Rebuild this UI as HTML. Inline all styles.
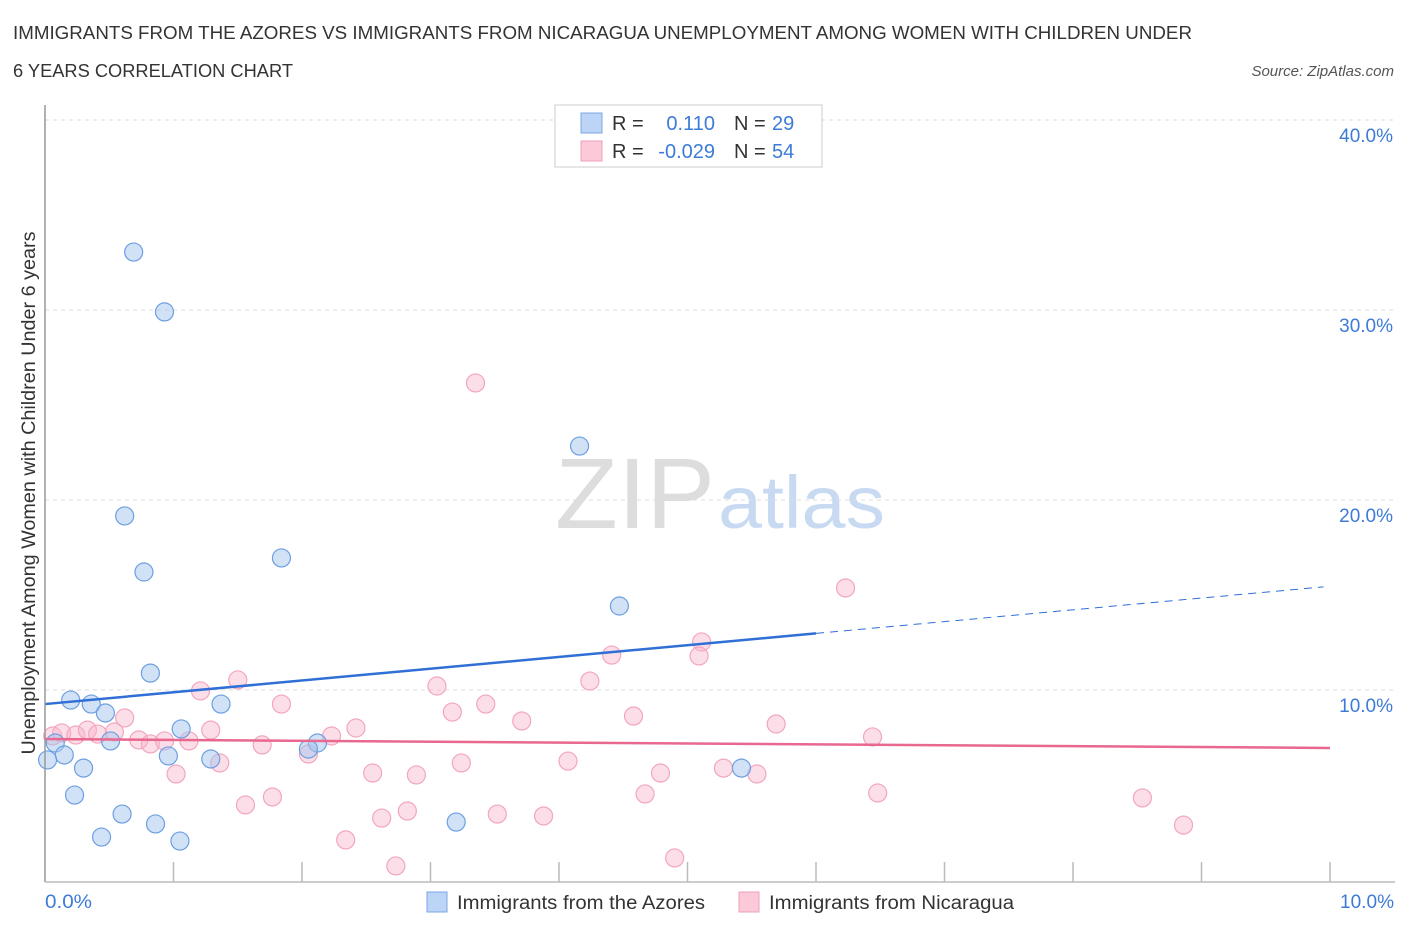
<!DOCTYPE html>
<html><head><meta charset="utf-8">
<style>
body{margin:0;background:#fff;font-family:"Liberation Sans",sans-serif;}
svg text{font-family:"Liberation Sans",sans-serif;}
</style></head>
<body>
<svg id="chart" width="1406" height="930">
<text x="13" y="39" font-size="18" fill="#333" textLength="1179" lengthAdjust="spacingAndGlyphs">IMMIGRANTS FROM THE AZORES VS IMMIGRANTS FROM NICARAGUA UNEMPLOYMENT AMONG WOMEN WITH CHILDREN UNDER</text>
<text x="13" y="77" font-size="18" fill="#333" textLength="280" lengthAdjust="spacingAndGlyphs">6 YEARS CORRELATION CHART</text>
<text x="1394" y="76" font-size="15" fill="#555" font-style="italic" text-anchor="end">Source: ZipAtlas.com</text>
<text x="555" y="528" font-size="100" fill="#ddd" textLength="160" lengthAdjust="spacingAndGlyphs" font-family="Liberation Serif, serif">ZIP</text>
<text x="718" y="528" font-size="74" fill="#c8daf2" textLength="167" lengthAdjust="spacingAndGlyphs">atlas</text>
<text transform="translate(35,493) rotate(-90)" font-size="19" fill="#333" text-anchor="middle" textLength="523" lengthAdjust="spacingAndGlyphs">Unemployment Among Women with Children Under 6 years</text>
<g id="grid"></g><g id="marks"></g><g id="lines"></g>
<line x1="45" y1="105" x2="45" y2="882" stroke="#999" stroke-width="1.5"/>
<line x1="45" y1="882" x2="1395" y2="882" stroke="#bbb" stroke-width="1.5"/>
<text x="45" y="908" font-size="19" fill="#3d7bd6" textLength="47" lengthAdjust="spacingAndGlyphs">0.0%</text>
<text x="1340" y="908" font-size="19" fill="#3d7bd6" textLength="54" lengthAdjust="spacingAndGlyphs">10.0%</text>
<g>
<rect x="555" y="105" width="267" height="62" fill="#fff" stroke="#ccc"/>
<rect x="581" y="113" width="21" height="20" fill="#bcd4f6" stroke="#7aa7e6"/>
<rect x="581" y="141" width="21" height="20" fill="#fbc9d8" stroke="#f0a0b8"/>
<text x="612" y="130" font-size="20" fill="#333">R =</text>
<text x="715" y="130" font-size="20" fill="#3d7bd6" text-anchor="end">0.110</text>
<text x="734" y="130" font-size="20" fill="#333">N =</text>
<text x="772" y="130" font-size="20" fill="#3d7bd6">29</text>
<text x="612" y="158" font-size="20" fill="#333">R =</text>
<text x="715" y="158" font-size="20" fill="#3d7bd6" text-anchor="end">-0.029</text>
<text x="734" y="158" font-size="20" fill="#333">N =</text>
<text x="772" y="158" font-size="20" fill="#3d7bd6">54</text>
</g>
<g>
<rect x="427" y="892" width="20" height="20" fill="#bcd4f6" stroke="#7aa7e6"/>
<text x="457" y="909" font-size="19" fill="#333" textLength="248" lengthAdjust="spacingAndGlyphs">Immigrants from the Azores</text>
<rect x="739" y="892" width="20" height="20" fill="#fbc9d8" stroke="#f0a0b8"/>
<text x="769" y="909" font-size="19" fill="#333" textLength="245" lengthAdjust="spacingAndGlyphs">Immigrants from Nicaragua</text>
</g>
</svg>
<script>
const yTicks=[10,20,30,40];
const xTickCount=10;
const azoresX=[0.69,0.93,4.16,0.62,1.84,0.77,4.47,0.82,0.20,0.36,0.47,1.37,1.06,0.08,0.51,2.12,2.05,0.15,0.96,1.29,0.02,0.30,5.42,0.23,0.60,0.86,3.20,0.44,1.05];
const azoresY=[33.05,29.9,22.84,19.16,16.95,16.21,14.42,10.89,9.47,9.26,8.79,9.26,7.95,7.21,7.32,7.21,6.89,6.58,6.53,6.37,6.32,5.89,5.89,4.47,3.47,2.95,3.05,2.26,2.05];
const nicX=[3.35,6.23,5.11,4.41,5.09,1.50,4.24,3.05,1.21,1.84,3.43,3.17,4.58,0.62,3.71,5.69,2.42,1.29,6.44,0.06,0.13,0.24,0.33,0.41,0.54,0.73,0.82,0.93,1.12,2.23,1.69,2.05,1.36,4.07,3.24,2.55,1.02,4.79,5.54,5.28,2.89,1.56,1.77,4.67,6.48,8.54,2.82,3.52,3.88,2.62,2.34,8.86,2.73,4.90];
const nicY=[26.16,15.37,12.53,11.84,11.79,10.53,10.47,10.21,9.95,9.26,9.26,8.84,8.63,8.53,8.37,8.21,8.0,7.89,7.53,7.58,7.74,7.63,7.89,7.68,7.79,7.37,7.16,7.32,7.32,7.58,7.11,6.63,6.16,6.26,6.16,5.63,5.58,5.63,5.58,5.89,5.53,3.95,4.37,4.53,4.58,4.32,3.63,3.47,3.37,3.26,2.11,2.89,0.74,1.16];
const azoresTrend=[9.26,0.62];
const nicTrend=[7.42,-0.047];
const azoresSolidEnd=6.0;

const NS='http://www.w3.org/2000/svg';
const sx=v=>45+v*128.5, sy=v=>880-v*19;
function mk(tag,attrs,parent){const e=document.createElementNS(NS,tag);for(const k in attrs)e.setAttribute(k,attrs[k]);parent.appendChild(e);return e;}
const grid=document.getElementById('grid'),marks=document.getElementById('marks'),lines=document.getElementById('lines');
yTicks.forEach(t=>{
  const l=mk('line',{x1:45,x2:1395,y1:sy(t),y2:sy(t),stroke:'#ddd','stroke-dasharray':'4,4'},grid);
  
  
  const tx=mk('text',{x:1393,y:sy(t)+22,'font-size':19,fill:'#3d7bd6','text-anchor':'end'},grid);
  tx.textContent=t.toFixed(1)+'%';
  
  
});
for(let i=1;i<=xTickCount;i++){
  const l=mk('line',{x1:sx(i),x2:sx(i),y1:862,y2:882,stroke:'#bbb','stroke-width':1.5},grid);
  
  
}
nicX.forEach((x,i)=>{
  const c=mk('circle',{cx:sx(x),cy:sy(nicY[i]),r:9,fill:'rgba(248,182,204,0.45)',stroke:'#f2a6bf','stroke-width':1.2},marks);
  
  
});
azoresX.forEach((x,i)=>{
  const c=mk('circle',{cx:sx(x),cy:sy(azoresY[i]),r:9,fill:'rgba(164,198,240,0.5)',stroke:'#6d9fe0','stroke-width':1.2},marks);
  
  
});
const by=x=>azoresTrend[0]+azoresTrend[1]*x, ny=x=>nicTrend[0]+nicTrend[1]*x;
let l1=mk('line',{x1:sx(0),y1:sy(by(0)),x2:sx(azoresSolidEnd),y2:sy(by(azoresSolidEnd)),stroke:'#2f6fd6','stroke-width':2.5},lines);


let l2=mk('line',{x1:sx(azoresSolidEnd),y1:sy(by(azoresSolidEnd)),x2:sx(9.95),y2:sy(by(9.95)),stroke:'#2f6fd6','stroke-width':1,'stroke-dasharray':'8,6'},lines);


let l3=mk('line',{x1:sx(0),y1:sy(ny(0)),x2:sx(10),y2:sy(ny(10)),stroke:'#e8688f','stroke-width':2.5},lines);


</script>
</body></html>
